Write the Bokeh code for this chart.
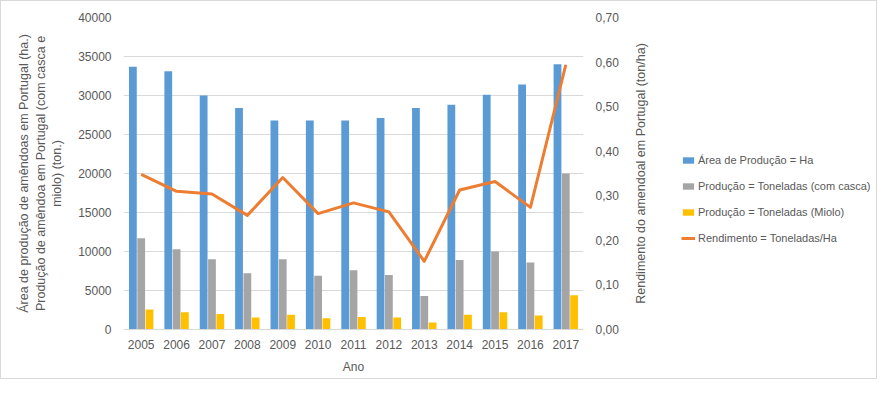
from bokeh.plotting import figure
from bokeh.layouts import row
from bokeh.models import (FactorRange, Range1d, LinearAxis, SingleIntervalTicker,
                          FixedTicker, CustomJSTickFormatter, Legend, LegendItem, ColumnDataSource)
from bokeh.transform import dodge
from bokeh.embed import file_html
from bokeh.resources import INLINE

years = ["2005", "2006", "2007", "2008", "2009", "2010", "2011", "2012",
         "2013", "2014", "2015", "2016", "2017"]
area_ha = [33700, 33100, 30000, 28400, 26800, 26800, 26800, 27100, 28400, 28800, 30100, 31400, 34000]
prod_casca = [11700, 10300, 9000, 7200, 9000, 6900, 7600, 7000, 4300, 8900, 10000, 8600, 20000]
prod_miolo = [2550, 2200, 2000, 1550, 1900, 1450, 1600, 1550, 900, 1900, 2200, 1800, 4400]
rendimento = [0.348, 0.310, 0.304, 0.256, 0.341, 0.260, 0.284, 0.264, 0.153, 0.313, 0.332, 0.274, 0.594]

left_ticks = [0, 5000, 10000, 15000, 20000, 25000, 30000, 35000, 40000]
right_ticks = [0.0, 0.1, 0.2, 0.3, 0.4, 0.5, 0.6, 0.7]

left_title_lines = ["Área de produção de amêndoas em Portugal (ha.)",
                    "Produção de amêndoa em Portugal (com casca e",
                    "miolo) (ton.)"]
right_title = "Rendimento do amendoal em Portugal (ton/ha)"
x_title = "Ano"

names = ["Área de Produção = Ha", "Produção = Toneladas (com casca)",
         "Produção = Toneladas (Miolo)", "Rendimento = Toneladas/Ha"]
colors = ["#5b9bd5", "#a5a5a5", "#ffc000", "#ed7d31"]

FONT = "Liberation Sans"
TXT = "#595959"
GRID = "#d9d9d9"
BORDER = "1px solid #d9d9d9"

src = ColumnDataSource(dict(year=years, area=area_ha, casca=prod_casca,
                            miolo=prod_miolo, rend=rendimento))

# ---------------- main chart ----------------
p = figure(width=630, height=379, x_range=FactorRange(factors=years),
           y_range=Range1d(0, 40000), output_backend="svg", toolbar_location=None,
           min_border_left=122, min_border_right=48, min_border_top=16, min_border_bottom=51)
p.extra_y_ranges = {"rend": Range1d(0, 0.7)}
p.outline_line_color = None
p.styles = {"border-left": BORDER, "border-top": BORDER, "border-bottom": BORDER,
            "box-sizing": "border-box"}

bw = 0.22
r1 = p.vbar(x=dodge("year", -0.235, range=p.x_range), top="area", width=bw, source=src,
            fill_color=colors[0], line_color=None)
r2 = p.vbar(x=dodge("year", 0.0, range=p.x_range), top="casca", width=bw, source=src,
            fill_color=colors[1], line_color=None)
r3 = p.vbar(x=dodge("year", 0.235, range=p.x_range), top="miolo", width=bw, source=src,
            fill_color=colors[2], line_color=None)
r4 = p.line(x="year", y="rend", source=src, y_range_name="rend",
            line_color=colors[3], line_width=3, line_join="round")

p.xgrid.grid_line_color = None
p.ygrid.grid_line_color = GRID
p.ygrid.ticker = SingleIntervalTicker(interval=5000)


def style_title(ax, text, standoff, size="12.5px"):
    ax.axis_label = text
    ax.axis_label_text_font = FONT
    ax.axis_label_text_font_size = size
    ax.axis_label_text_font_style = "normal"
    ax.axis_label_text_color = TXT
    ax.axis_label_standoff = standoff


def style_ticks(ax, standoff):
    ax.axis_line_color = None
    ax.major_tick_line_color = None
    ax.minor_tick_line_color = None
    ax.major_tick_out = 0
    ax.major_tick_in = 0
    ax.major_label_standoff = standoff
    ax.major_label_text_font = FONT
    ax.major_label_text_font_size = "12px"
    ax.major_label_text_color = TXT


ya = p.yaxis[0]
ya.ticker = FixedTicker(ticks=left_ticks)
style_ticks(ya, 12)
style_title(ya, left_title_lines[2], 11)

for line in [left_title_lines[1], left_title_lines[0]]:
    ax = LinearAxis(ticker=FixedTicker(ticks=[]))
    style_ticks(ax, 0)
    ax.major_label_text_font_size = "0px"
    style_title(ax, line, 0)
    p.add_layout(ax, "left")

xa = p.xaxis[0]
style_ticks(xa, 10)
xa.axis_line_color = GRID
style_title(xa, x_title, 8, "12px")

ra = LinearAxis(y_range_name="rend", ticker=FixedTicker(ticks=right_ticks),
                formatter=CustomJSTickFormatter(code="return tick.toFixed(2).replace('.', ',');"))
style_ticks(ra, 12)
p.add_layout(ra, "right")

# ---------------- right title + legend panel ----------------
q = figure(width=247, height=379, x_range=Range1d(0, 1), y_range=Range1d(0, 1),
           output_backend="svg", toolbar_location=None, x_axis_location=None,
           min_border_left=16, min_border_right=0, min_border_top=16, min_border_bottom=51)
q.outline_line_color = None
q.grid.grid_line_color = None
q.styles = {"border-right": BORDER, "border-top": BORDER, "border-bottom": BORDER,
            "box-sizing": "border-box"}
qa = q.yaxis[0]
qa.ticker = FixedTicker(ticks=[])
style_ticks(qa, 0)
qa.major_label_text_font_size = "0px"
style_title(qa, right_title, 0)

# legend proxies (zero-size, nothing visible is drawn)
k1 = q.vbar(x=[0], top=[0], bottom=[0], width=0, fill_color=colors[0], line_color=None)
k2 = q.vbar(x=[0], top=[0], bottom=[0], width=0, fill_color=colors[1], line_color=None)
k3 = q.vbar(x=[0], top=[0], bottom=[0], width=0, fill_color=colors[2], line_color=None)
k4 = q.line(x=[0], y=[0], line_color=colors[3], line_width=3)

legend = Legend(items=[LegendItem(label=names[0], renderers=[k1]),
                       LegendItem(label=names[1], renderers=[k2]),
                       LegendItem(label=names[2], renderers=[k3]),
                       LegendItem(label=names[3], renderers=[k4])],
                location=(34, 81), orientation="vertical",
                glyph_width=14, glyph_height=8, label_height=20, label_standoff=3, spacing=6,
                padding=0, margin=0, border_line_color=None, background_fill_alpha=0,
                label_text_font=FONT, label_text_font_size="11px", label_text_color=TXT)
q.add_layout(legend, "center")

layout = row(p, q, spacing=0)
open("out.html", "w").write(file_html(layout, INLINE))
